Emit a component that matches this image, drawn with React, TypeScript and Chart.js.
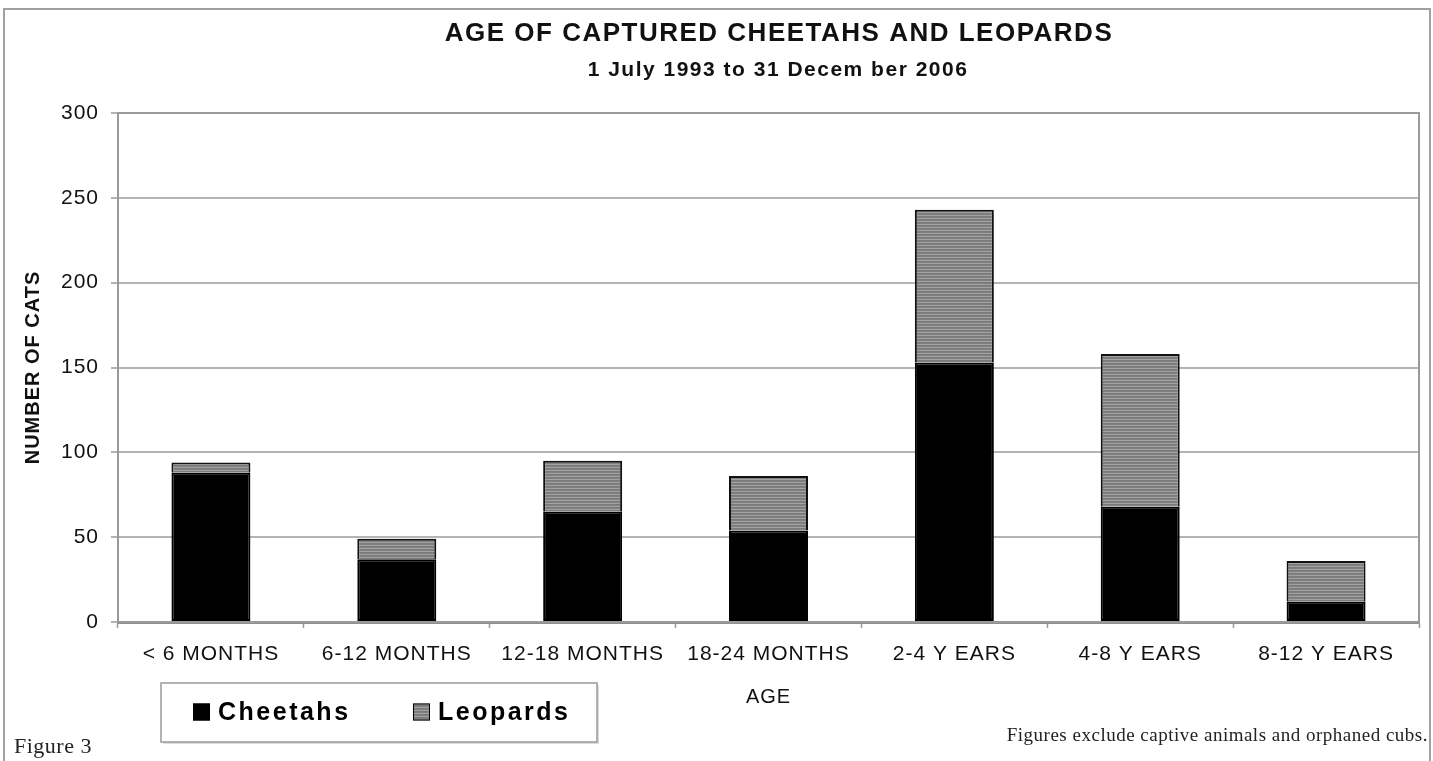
import React, { useEffect, useRef } from "react";
import { Chart, registerables } from "chart.js";

Chart.register(...registerables);

// ---- data ----
const categories = [
  "< 6 MONTHS",
  "6-12 MONTHS",
  "12-18 MONTHS",
  "18-24 MONTHS",
  "2-4 Y EARS",
  "4-8 Y EARS",
  "8-12 Y EARS",
];
const seriesNames = ["Cheetahs", "Leopards"];
const cheetahs = [88, 37, 65, 54, 153, 68, 12];
const leopards = [6, 12, 30, 32, 90, 90, 24];
const yTickValues = [0, 50, 100, 150, 200, 250, 300];

const TITLE = "AGE OF CAPTURED CHEETAHS AND LEOPARDS";
const SUBTITLE = "1 July 1993 to 31 Decem ber 2006";
const Y_TITLE = "NUMBER OF CATS";
const X_TITLE = "AGE";
const FIGURE_LABEL = "Figure 3";
const FOOTNOTE = "Figures exclude captive animals and orphaned cubs.";

const SANS = '"Liberation Sans", Arial, Helvetica, sans-serif';
const SERIF = '"Liberation Serif", "Times New Roman", serif';

function makeHatch(ctx: CanvasRenderingContext2D) {
  const c = document.createElement("canvas");
  c.width = 4;
  c.height = 3;
  const g = c.getContext("2d")!;
  const rows = ["#7a7a7a", "#808080", "#a2a2a2"];
  rows.forEach((col, i) => {
    g.fillStyle = col;
    g.fillRect(0, i, 4, 1);
  });
  return ctx.createPattern(c, "repeat")!;
}

export default function App() {
  const ref = useRef<HTMLCanvasElement>(null);

  useEffect(() => {
    document.body.style.margin = "0";
    const canvas = ref.current!;
    const ctx0 = canvas.getContext("2d")!;
    const hatch = makeHatch(ctx0);

    const decor = {
      id: "decor",
      beforeLayout(chart: any) {
        chart.ctx.letterSpacing = "1px";
      },
      beforeDraw(chart: any) {
        const c = chart.ctx as CanvasRenderingContext2D;
        c.save();
        c.fillStyle = "#ffffff";
        c.fillRect(0, 0, chart.width, chart.height);
        c.restore();
        (c as any).letterSpacing = "1px";
      },
      beforeDatasetsDraw(chart: any) {
        const c = chart.ctx as CanvasRenderingContext2D;
        const a = chart.chartArea;
        c.save();
        c.strokeStyle = "#9a9a9a";
        c.lineWidth = 2;
        c.strokeRect(a.left, a.top, a.right - a.left, a.bottom - a.top);
        c.restore();
      },
      afterDraw(chart: any) {
        const c = chart.ctx as any;
        const W = chart.width;
        const H = chart.height;
        c.save();
        // outer frame
        c.strokeStyle = "#a0a0a0";
        c.lineWidth = 2;
        c.beginPath();
        c.moveTo(4, H);
        c.lineTo(4, 9);
        c.lineTo(W - 3, 9);
        c.lineTo(W - 3, H);
        c.stroke();

        // title + subtitle
        c.fillStyle = "#111";
        c.textAlign = "center";
        c.textBaseline = "middle";
        c.letterSpacing = "1.5px";
        c.font = `bold 26px ${SANS}`;
        c.fillText(TITLE, 779, 34);
        c.letterSpacing = "1.5px";
        c.font = `bold 21px ${SANS}`;
        c.fillText(SUBTITLE, 778, 70);

        // legend
        const lx = 161, ly = 683, lw = 436, lh = 59;
        c.fillStyle = "#dcdcdc";
        c.fillRect(lx + 2, ly + 2, lw, lh);
        c.fillStyle = "#ffffff";
        c.fillRect(lx, ly, lw, lh);
        c.strokeStyle = "#9a9a9a";
        c.lineWidth = 1.5;
        c.strokeRect(lx, ly, lw, lh);
        const itemX = [193, 413];
        const cy = 712;
        const sz = 17;
        chart.data.datasets.forEach((ds: any, i: number) => {
          const x = itemX[i];
          c.fillStyle = ds.backgroundColor;
          c.fillRect(x, cy - sz / 2, sz, sz);
          c.strokeStyle = "#000";
          c.lineWidth = 1;
          c.strokeRect(x + 0.5, cy - sz / 2 + 0.5, sz - 1, sz - 1);
          c.fillStyle = "#000";
          c.font = `bold 25px ${SANS}`;
          c.letterSpacing = "2.5px";
          c.textAlign = "left";
          c.textBaseline = "middle";
          c.fillText(ds.label, x + sz + 8, cy + 1);
        });

        // footnotes
        c.fillStyle = "#222";
        c.letterSpacing = "0.5px";
        c.font = `22px ${SERIF}`;
        c.textAlign = "left";
        c.textBaseline = "middle";
        c.fillText(FIGURE_LABEL, 14, 747);
        c.letterSpacing = "0.5px";
        c.font = `19px ${SERIF}`;
        c.textAlign = "right";
        c.fillText(FOOTNOTE, W - 5, 736);
        c.restore();
      },
    };

    const chart = new Chart(canvas, {
      type: "bar",
      data: {
        labels: categories,
        datasets: [
          {
            label: seriesNames[0],
            data: cheetahs,
            backgroundColor: "#000000",
            borderColor: "#000000",
            borderWidth: 2,
            borderSkipped: false,
            barPercentage: 0.425,
            categoryPercentage: 1,
          },
          {
            label: seriesNames[1],
            data: leopards,
            backgroundColor: hatch as any,
            borderColor: "#111111",
            borderWidth: 2,
            borderSkipped: "bottom",
            barPercentage: 0.425,
            categoryPercentage: 1,
          },
        ],
      },
      options: {
        responsive: false,
        animation: false,
        layout: { padding: { top: 113, right: 14, left: 0, bottom: 0 } },
        plugins: {
          legend: { display: false },
          tooltip: { enabled: false },
          title: { display: false },
        },
        scales: {
          x: {
            stacked: true,
            offset: true,
            grid: {
              offset: true,
              drawOnChartArea: false,
              drawTicks: true,
              tickLength: 6,
              tickColor: "#9a9a9a",
              tickWidth: 1.5,
            },
            border: { color: "#8f8f8f", width: 3 },
            ticks: {
              color: "#111",
              font: { family: SANS, size: 21 },
              padding: 14,
              maxRotation: 0,
              autoSkip: false,
            },
            title: {
              display: true,
              text: X_TITLE,
              color: "#111",
              font: { family: SANS, size: 20 },
              padding: { top: 0, bottom: 52 },
            },
            afterFit: (s: any) => {
              s.height = 139;
            },
          },
          y: {
            stacked: true,
            min: 0,
            max: 300,
            afterBuildTicks: (s: any) => {
              s.ticks = yTickValues.map((v) => ({ value: v }));
            },
            grid: {
              color: "#b4b4b4",
              lineWidth: 2,
              tickLength: 7,
              tickColor: "#9a9a9a",
              tickWidth: 1.5,
            },
            border: { color: "#8f8f8f", width: 2 },
            ticks: {
              color: "#111",
              font: { family: SANS, size: 21 },
              padding: 12,
            },
            title: {
              display: true,
              text: Y_TITLE,
              color: "#111",
              font: { family: SANS, size: 20, weight: "bold" },
              padding: { top: 21, bottom: 0 },
            },
            afterFit: (s: any) => {
              s.width = 118;
            },
          },
        },
      },
      plugins: [decor as any],
    });

    return () => chart.destroy();
  }, []);

  return (
    <canvas
      ref={ref}
      width={1433}
      height={761}
      style={{ display: "block", width: 1433, height: 761 }}
    />
  );
}
